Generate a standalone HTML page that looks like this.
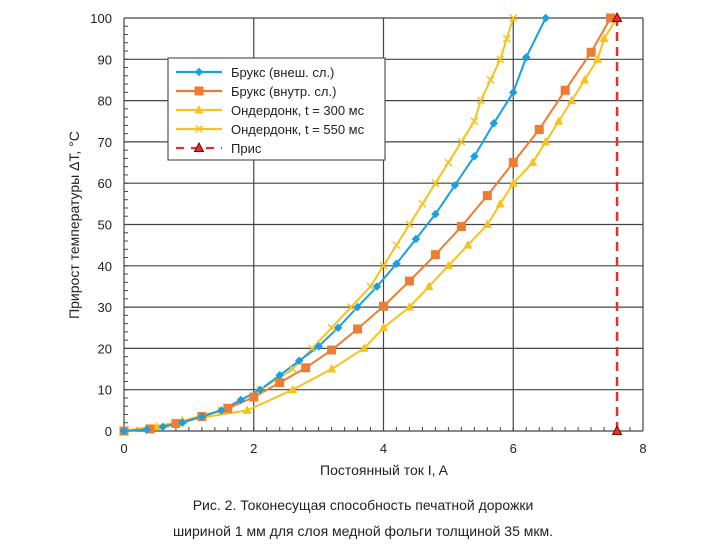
<!DOCTYPE html>
<html><head><meta charset="utf-8"><style>
body{margin:0;background:#fff;width:726px;height:554px;overflow:hidden;font-family:"Liberation Sans",Arial,sans-serif}
svg text{font-family:"Liberation Sans",Arial,sans-serif}
</style></head><body>
<svg id="s" width="726" height="554" xmlns="http://www.w3.org/2000/svg">
<text x="363" y="510" font-size="14" text-anchor="middle" fill="#222">Рис. 2. Токонесущая способность печатной дорожки</text>
<text x="363" y="536" font-size="14" text-anchor="middle" fill="#222">шириной 1 мм для слоя медной фольги толщиной 35 мкм.</text>
<text x="384" y="475" font-size="14" text-anchor="middle" fill="#222">Постоянный ток I, A</text>
<text transform="translate(79,225) rotate(-90)" font-size="14" text-anchor="middle" fill="#222">Прирост температуры ΔT, °C</text>
</svg>
<script>
var s=document.getElementById('s'),NS='http://www.w3.org/2000/svg';
var X0=124,XS=64.875,Y0=431,YS=4.13;
function X(v){return X0+v*XS}function Y(v){return Y0-v*YS}
function el(t,a,p){var e=document.createElementNS(NS,t);for(var k in a)e.setAttribute(k,a[k]);(p||s).appendChild(e);return e}
for(var i=0;i<=10;i++){el('line',{x1:X0,x2:X(8),y1:Y(i*10),y2:Y(i*10),stroke:'#444','stroke-width':1.2});
el('text',{x:112,y:Y(i*10)+5,'font-size':13,'text-anchor':'end',fill:'#222'}).textContent=i*10;}
for(var i=0;i<=4;i++){el('line',{x1:X(i*2),x2:X(i*2),y1:Y(0),y2:Y(100),stroke:'#444','stroke-width':1.2});
el('text',{x:X(i*2),y:453,'font-size':13,'text-anchor':'middle',fill:'#222'}).textContent=i*2;}
for(var i=0;i<50;i++)el('line',{x1:X0,x2:X0+4,y1:Y(i*2),y2:Y(i*2),stroke:'#444'});
for(var i=0;i<40;i++)el('line',{x1:X(i*0.2),x2:X(i*0.2),y1:Y0,y2:Y0-4,stroke:'#444'});
function line(pts,c,w){el('polyline',{points:pts.map(function(p){return X(p[0])+','+Y(p[1])}).join(' '),fill:'none',stroke:c,'stroke-width':w||2,'stroke-linejoin':'round'})}
function mk(t,x,y,c){if(t=='d')el('rect',{x:x-3,y:y-3,width:6,height:6,fill:c,transform:'rotate(45 '+x+' '+y+')'});
else if(t=='s')el('rect',{x:x-4.5,y:y-4.5,width:9,height:9,fill:c});
else if(t=='t')el('polygon',{points:(x)+','+(y-5)+' '+(x-4.5)+','+(y+3.5)+' '+(x+4.5)+','+(y+3.5),fill:c,stroke:c=='#e03030'?'#800':'none'});
else {el('line',{x1:x-3.5,y1:y-3.5,x2:x+3.5,y2:y+3.5,stroke:c,'stroke-width':1.5});el('line',{x1:x-3.5,y1:y+3.5,x2:x+3.5,y2:y-3.5,stroke:c,'stroke-width':1.5});}}
var B=[[0,0],[0.35,0.3],[0.6,1],[0.9,2],[1.2,3.5],[1.5,5],[1.8,7.5],[2.1,10],[2.4,13.5],[2.7,17],[3,20.5],[3.3,25],[3.6,30],[3.9,35],[4.2,40.5],[4.5,46.5],[4.8,52.5],[5.1,59.5],[5.4,66.5],[5.7,74.5],[6,82],[6.2,90.5],[6.5,100]];
var O=[[0,0],[0.4,0.5],[0.8,1.8],[1.2,3.5],[1.6,5.5],[2,8.2],[2.4,11.7],[2.8,15.3],[3.2,19.6],[3.6,24.7],[4,30.2],[4.4,36.3],[4.8,42.7],[5.2,49.5],[5.6,57],[6,65],[6.4,73],[6.8,82.5],[7.2,91.7],[7.5,100]];
var T=[[0,0],[0.5,1],[0.9,2.5],[1.9,5],[2.6,10],[3.2,15],[3.7,20],[4,25],[4.4,30],[4.7,35],[5,40],[5.3,45],[5.6,50],[5.8,55],[6,60],[6.3,65],[6.5,70],[6.7,75],[6.9,80],[7.1,85],[7.3,90],[7.4,95],[7.6,100]];
var K=[[0,0],[0.8,2],[1.5,5],[2.1,10],[2.6,15],[2.9,20],[3.2,25],[3.5,30],[3.8,35],[4,40],[4.2,45],[4.4,50],[4.6,55],[4.8,60],[5,65],[5.2,70],[5.4,75],[5.5,80],[5.65,85],[5.8,90],[5.9,95],[6,100]];
line(T,'#f8c21c');line(K,'#f8c21c');line(O,'#ee7d31');line(B,'#1aa0e0');
T.forEach(function(p){mk('t',X(p[0]),Y(p[1]),'#f8c21c')});K.forEach(function(p){mk('x',X(p[0]),Y(p[1]),'#f8c21c')});
O.forEach(function(p){mk('s',X(p[0]),Y(p[1]),'#ee7d31')});B.forEach(function(p){mk('d',X(p[0]),Y(p[1]),'#1aa0e0')});
el('line',{x1:X(7.6),x2:X(7.6),y1:Y(0),y2:Y(100),stroke:'#e03030','stroke-width':2.5,'stroke-dasharray':'9,6'});
mk('t',X(7.6),Y(0),'#e03030');mk('t',X(7.6),Y(100),'#e03030');
el('rect',{x:168,y:58,width:217,height:102,fill:'#fff',stroke:'#555','stroke-width':1.2});
var L=[['Брукс (внеш. сл.)','#1aa0e0','d'],['Брукс (внутр. сл.)','#ee7d31','s'],['Ондердонк, t = 300 мс','#f8c21c','t'],['Ондердонк, t = 550 мс','#f8c21c','x'],['Прис','#e03030','t']];
L.forEach(function(l,i){var y=72+i*19;el('line',{x1:176,x2:222,y1:y,y2:y,stroke:l[1],'stroke-width':2.2,'stroke-dasharray':i==4?'8,7':''});mk(l[2],199,y,l[1]);
el('text',{x:231,y:y+5,'font-size':13,fill:'#222'}).textContent=l[0];});
</script>
</body></html>
